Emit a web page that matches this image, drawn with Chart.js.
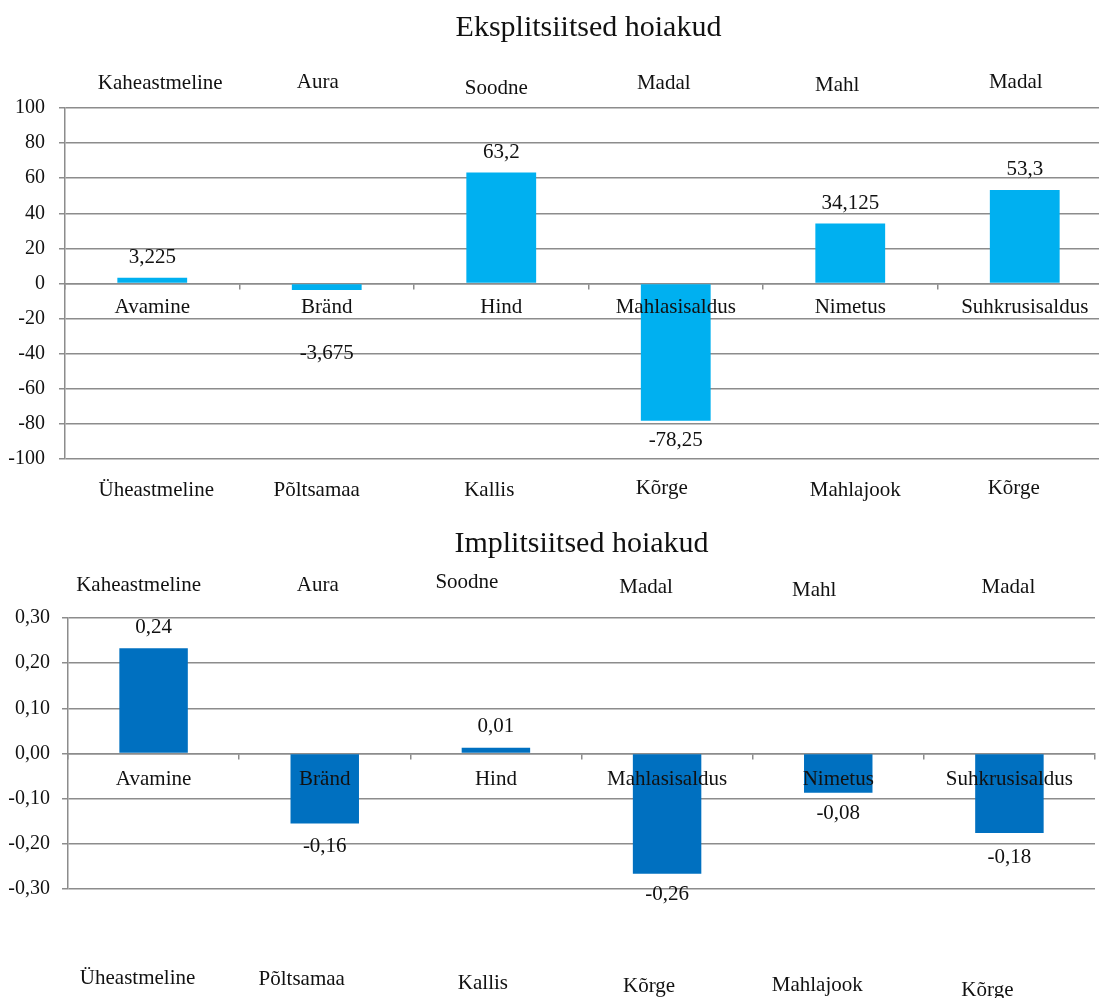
<!DOCTYPE html>
<html>
<head>
<meta charset="utf-8">
<script src="https://cdn.jsdelivr.net/npm/chart.js@4.4.1/dist/chart.umd.min.js"></script>
<style>
  html, body { margin: 0; padding: 0; background: #fff; overflow: hidden; }
  #wrap { position: relative; width: 1099px; height: 998px; overflow: hidden; }
  #c1 { position: absolute; left: 0; top: 0; }
  #c2 { position: absolute; left: 0; top: 520px; }
</style>
</head>
<body>
<div id="wrap">
  <canvas id="c1" width="1115" height="520"></canvas>
  <canvas id="c2" width="1099" height="478"></canvas>
</div>
<script>
// ── DATA ──────────────────────────────────
const categories = ['Avamine', 'Bränd', 'Hind', 'Mahlasisaldus', 'Nimetus', 'Suhkrusisaldus'];
const upperPoles = ['Kaheastmeline', 'Aura', 'Soodne', 'Madal', 'Mahl', 'Madal'];
const lowerPoles = ['Üheastmeline', 'Põltsamaa', 'Kallis', 'Kõrge', 'Mahlajook', 'Kõrge'];

const explicitValues = [3.225, -3.675, 63.2, -78.25, 34.125, 53.3];
const explicitTicks = [-100, -80, -60, -40, -20, 0, 20, 40, 60, 80, 100];

const implicitValues = [0.233, -0.155, 0.013, -0.266, -0.087, -0.176];
const implicitLabels = ['0,24', '-0,16', '0,01', '-0,26', '-0,08', '-0,18'];
const implicitTicks = [-0.3, -0.2, -0.1, 0, 0.1, 0.2, 0.3];

// ── STYLE ─────────────────────────────────
const SERIF = '"Liberation Serif", "Times New Roman", serif';
const TEXT = '#111';
const GRID = '#8c8c8c';

const fmtInt = v => String(v);
const fmt2 = v => (Math.abs(v) < 1e-9 ? 0 : v).toFixed(2).replace('.', ',');
const fmtComma = v => String(v).replace('.', ',');

// titles, pole labels and value labels drawn on top
const decor = {
  id: 'decor',
  afterDatasetsDraw(chart, args, o) {
    const ctx = chart.ctx;
    const meta = chart.getDatasetMeta(0);
    const data = chart.data.datasets[0].data;
    ctx.save();
    ctx.fillStyle = TEXT;
    ctx.textAlign = 'center';
    ctx.textBaseline = 'middle';
    ctx.font = '21px ' + SERIF;
    meta.data.forEach((bar, i) => {
      const dir = data[i] >= 0 ? -1 : 1;
      const gap = o.gap + (o.extra ? o.extra[i] : 0);
      ctx.fillText(o.text[i], bar.x, bar.y + dir * gap);
    });
    ctx.restore();
  },
  afterDraw(chart, args, o) {
    const ctx = chart.ctx;
    const area = chart.chartArea;
    const x = chart.scales.x;
    ctx.save();
    ctx.fillStyle = TEXT;
    ctx.textAlign = 'center';
    ctx.textBaseline = 'alphabetic';
    ctx.font = '30px ' + SERIF;
    ctx.fillText(o.title, (area.left + area.right) / 2, o.titleY);
    ctx.textBaseline = 'middle';
    ctx.font = '21px ' + SERIF;
    upperPoles.forEach((t, i) => {
      ctx.fillText(t, x.getPixelForValue(i) + o.upDx[i], o.upY[i]);
    });
    lowerPoles.forEach((t, i) => {
      ctx.fillText(t, x.getPixelForValue(i) + o.lowDx[i], o.lowY[i]);
    });
    ctx.restore();
  }
};

function makeChart(id, cfg) {
  return new Chart(document.getElementById(id), {
    type: 'bar',
    data: {
      labels: categories,
      datasets: [{
        data: cfg.values,
        backgroundColor: cfg.color,
        borderWidth: 0,
        barPercentage: 0.4,
        categoryPercentage: 1.0
      }]
    },
    options: {
      responsive: false,
      animation: false,
      layout: { padding: cfg.padding },
      plugins: {
        legend: { display: false },
        tooltip: { enabled: false },
        decor: cfg.decor
      },
      scales: {
        x: {
          type: 'category',
          position: { y: 0 },
          offset: true,
          grid: { offset: true, drawOnChartArea: false, drawTicks: true, tickLength: 5, color: GRID, lineWidth: 1.5 },
          border: { display: true, color: GRID, width: 1.5 },
          // category names sit on top of the bars, as in the original
          ticks: { z: 1, color: TEXT, font: { family: SERIF, size: 21 }, padding: cfg.catPad, autoSkip: false, maxRotation: 0, minRotation: 0 },
          afterFit(s) { s.height = 0; }
        },
        y: {
          min: cfg.ticks[0],
          max: cfg.ticks[cfg.ticks.length - 1],
          afterBuildTicks(s) { s.ticks = cfg.ticks.map(v => ({ value: v })); },
          grid: { color: GRID, lineWidth: 1.5, drawTicks: true, tickLength: 6 },
          border: { display: true, color: GRID, width: 1.5 },
          ticks: { color: TEXT, font: { family: SERIF, size: 20 }, padding: cfg.tickPad, callback: cfg.fmt },
          afterFit(s) { s.width = cfg.axisWidth; }
        }
      }
    },
    plugins: [decor]
  });
}

makeChart('c1', {
  values: explicitValues,
  color: '#00b0f0',
  ticks: explicitTicks,
  fmt: fmtInt,
  padding: { top: 108, bottom: 61, left: 0, right: 3 },
  axisWidth: 65,
  tickPad: 14,
  catPad: 6,
  decor: {
    title: 'Eksplitsiitsed hoiakud',
    titleY: 36,
    text: explicitValues.map(fmtComma),
    gap: 20,
    extra: [0, 44, 0, 0, 0, 0],
    upDx: [8, -9, -5, -12, -13, -9],
    upY: [83, 82, 88, 83, 85, 82],
    lowDx: [4, -10, -12, -14, 5, -11],
    lowY: [490, 490, 490, 488, 490, 488]
  }
});

makeChart('c2', {
  values: implicitValues,
  color: '#0070c0',
  ticks: implicitTicks,
  fmt: fmt2,
  padding: { top: 98, bottom: 109, left: 0, right: 4 },
  axisWidth: 68,
  tickPad: 12,
  catPad: 8,
  decor: {
    title: 'Implitsiitsed hoiakud',
    titleY: 32,
    text: implicitLabels,
    gap: 21,
    extra: [0, 2, 0, 0, 0, 3],
    upDx: [-15, -7, -29, -21, -24, -1],
    upY: [65, 65, 62, 67, 70, 67],
    lowDx: [-16, -23, -13, -18, -21, -22],
    lowY: [458, 459, 463, 466, 465, 470]
  }
});
</script>
</body>
</html>
